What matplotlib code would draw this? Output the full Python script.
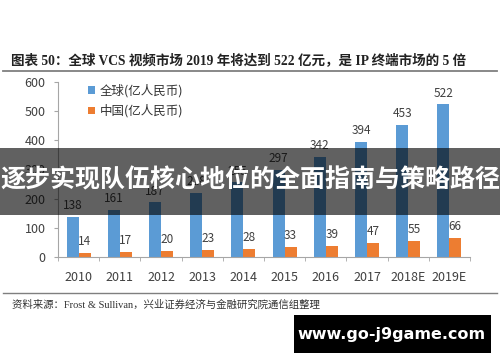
import matplotlib
matplotlib.use("Agg")
import matplotlib.pyplot as plt
from matplotlib.patches import Rectangle
from matplotlib.lines import Line2D
import numpy as np

plt.rcParams['font.family'] = ['Noto Sans CJK SC', 'DejaVu Sans']

years = ["2010", "2011", "2012", "2013", "2014", "2015", "2016", "2017", "2018E", "2019E"]
global_vals = [138, 161, 187, 218, 255, 297, 342, 394, 453, 522]
china_vals = [14, 17, 20, 23, 28, 33, 39, 47, 55, 66]
series_names = ["全球(亿人民币)", "中国(亿人民币)"]
title = "图表 50：全球 VCS 视频市场 2019 年将达到 522 亿元，是 IP 终端市场的 5 倍"
source = "资料来源：Frost & Sullivan，兴业证券经济与金融研究院通信组整理"
banner = "逐步实现队伍核心地位的全面指南与策略路径"
watermark = "www.go-j9game.com"

W, H = 500, 362
fig = plt.figure(figsize=(W / 100, H / 100), dpi=100)
fig.patch.set_facecolor("white")

def fx(px):
    return px / W

def fy(py):
    return 1 - py / H

ax = fig.add_axes([fx(58), fy(257), fx(470) - fx(58), fy(81.7) - fy(257)])
x = np.arange(len(years))
bw = 0.29
blue = "#5B9BD5"
orange = "#ED7D31"
b1 = ax.bar(x - bw / 2, global_vals, bw, color=blue, label=series_names[0])
b2 = ax.bar(x + bw / 2, china_vals, bw, color=orange, label=series_names[1])

lab_color = "#404040"
for rect, v in zip(b1, global_vals):
    ax.annotate(str(v), (rect.get_x() + rect.get_width() / 2, v), xytext=(0, 3.5),
                textcoords="offset points", ha="center", va="bottom", fontsize=8.5, color=lab_color)
for rect, v in zip(b2, china_vals):
    ax.annotate(str(v), (rect.get_x() + rect.get_width() / 2, v), xytext=(0, 3.5),
                textcoords="offset points", ha="center", va="bottom", fontsize=8.5, color=lab_color)

ax.set_xlim(-0.5, len(years) - 0.5)
ax.set_ylim(0, 600)
ax.set_yticks(range(0, 601, 100))
ax.set_xticks(x)
ax.set_xticklabels(years)
ax.set_xticks(np.arange(-0.5, len(years), 1.0), minor=True)
ax.tick_params(axis="x", which="major", length=0, pad=10, labelsize=9, labelcolor=lab_color)
ax.tick_params(axis="x", which="minor", length=3, color="#a6a6a6", direction="out")
ax.tick_params(axis="y", length=3, color="#a6a6a6", pad=6, labelsize=9, labelcolor=lab_color)
for s in ["top", "right"]:
    ax.spines[s].set_visible(False)
for s in ["left", "bottom"]:
    ax.spines[s].set_color("#a6a6a6")
    ax.spines[s].set_linewidth(0.8)

leg = ax.legend(loc="upper left", bbox_to_anchor=(fx(94) - fx(58), 1 - (84 - 81.7) / 175.3),
                bbox_transform=ax.transAxes, frameon=False, fontsize=9,
                handlelength=0.55, handleheight=0.55, handletextpad=0.4, labelspacing=0.55,
                borderaxespad=0, borderpad=0)
for t in leg.get_texts():
    t.set_color("#333333")

# title and rules
fig.text(fx(11), fy(60), title, fontsize=9.75, fontweight="bold", color="#222222",
         va="center", ha="left", family=["Liberation Serif", "Noto Sans CJK SC"])
fig.add_artist(Line2D([fx(3), fx(497)], [fy(71), fy(71)], transform=fig.transFigure,
                      color="#7f7f7f", linewidth=1.3))
fig.add_artist(Line2D([fx(3), fx(497)], [fy(293), fy(293)], transform=fig.transFigure,
                      color="#7f7f7f", linewidth=1.0))
fig.text(fx(12), fy(305), source, fontsize=7.5, color="#333333", va="center", ha="left",
         family=["Liberation Serif", "Noto Sans CJK SC"])

# banner overlay
fig.add_artist(Rectangle((0, fy(215)), 1, fy(148) - fy(215), transform=fig.transFigure,
                         facecolor="black", alpha=0.62, edgecolor="none", zorder=10))
fig.text(0.5, fy(180), banner, fontsize=18, fontweight="bold", color="white",
         ha="center", va="center", zorder=11)

# watermark box
fig.add_artist(Rectangle((fx(294), fy(353)), fx(491) - fx(294), fy(315) - fy(353),
                         transform=fig.transFigure, facecolor="black", edgecolor="none", zorder=10))
fig.text(fx(392), fy(334), watermark, fontsize=11.5, fontweight="bold", color="white",
         ha="center", va="center", zorder=11, family=["DejaVu Sans"])

fig.savefig("out.png", dpi=100)
